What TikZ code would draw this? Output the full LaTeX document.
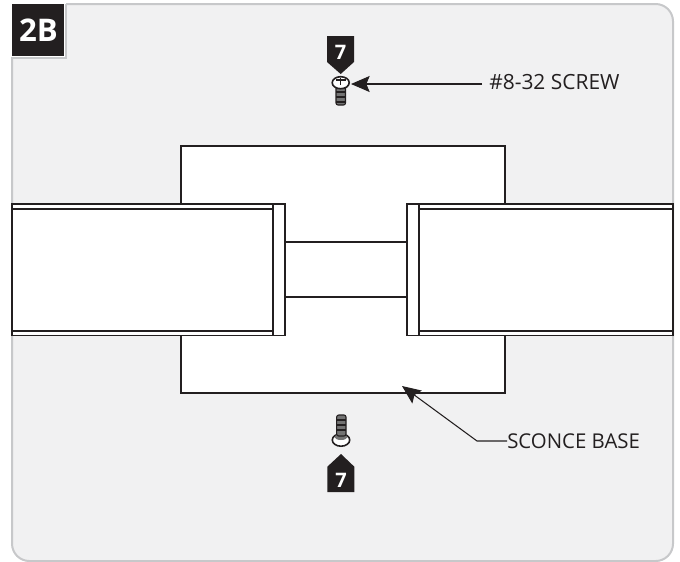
\documentclass[tikz,border=0pt]{standalone}
\usepackage{fontspec}
\setmainfont{Open Sans}
\usepackage{tikz}
\usetikzlibrary{arrows.meta, positioning, calc}
\definecolor{panelfill}{RGB}{241,241,242}
\definecolor{panelline}{RGB}{199,200,202}
\definecolor{inkblack}{RGB}{35,31,32}

\begin{document}
\begin{tikzpicture}[
    x=0.75pt, y=-0.75pt,
    part/.style={draw=inkblack, line width=1.2pt, fill=white},
    edge/.style={draw=inkblack, line width=1pt},
    arrow/.style={-{Stealth[length=14pt, width=12pt, inset=2.5pt]}, draw=inkblack, line width=0.8pt},
    callout/.style={font=\fontsize{15.3}{18}\selectfont, text=inkblack, inner sep=0pt},
    badge/.style={font=\bfseries\fontsize{15}{17}\selectfont, text=white, inner sep=0pt},
    threads/.style={draw=inkblack, line width=0.8pt, fill=black!55, rounded corners=1.5pt}
]
    \useasboundingbox (0,0) rectangle (680,561);
    % Panel and step tag
    \draw[draw=panelline, line width=1.5pt, fill=panelfill, rounded corners=13pt] (12,4) -- (673,4) -- (673,561) -- (12,561) -- cycle;
    \fill[white] (0,0) rectangle (66,58);
    \draw[draw=panelline, line width=1.5pt] (66,4) -- (66,58) -- (12,58) -- (12,80);
    \fill[inkblack] (12,4) rectangle (64,56);
    \node[badge, font=\bfseries\fontsize{23.4}{26}\selectfont] (tag) at (38.5,30) {2B};

    % Sconce base
    \draw[part] (181,146) rectangle (505,393);
    \draw[part] (285,242) rectangle (407,297);

    % Left arm
    \draw[part] (12,204) rectangle (273,335.5);
    \draw[edge] (12,209) -- (273,209);
    \draw[edge] (12,331) -- (273,331);
    \draw[part] (273,204) rectangle (285,335.5);

    % Right arm
    \draw[part] (419,204) rectangle (673,335.5);
    \draw[edge] (419,209) -- (673,209);
    \draw[edge] (419,331) -- (673,331);
    \draw[part] (407,204) rectangle (419,335.5);

    % Upper screw
    \draw[threads] (336,86) rectangle (345.5,105);
    \foreach \ty in {92,97,102}
        \draw[inkblack, line width=1pt] (336,\ty) -- (345.5,\ty);
    \draw[part, line width=1.2pt] (340.7,82.7) ellipse (8.5 and 6);
    \draw[inkblack, line width=0.8pt] (340.7,78) -- (340.7,85) (335.5,80) -- (346,80);
    \fill[inkblack] (327,36) -- (354,36) -- (354,62) -- (340.7,74) -- (327,62) -- cycle;
    \node[badge] (topseven) at (340.7,52) {7};

    % Lower screw
    \draw[inkblack, line width=1.2pt, fill=white] (341,440) ellipse (8.7 and 6.2);
    \fill[black!55] (341,437) ellipse (6.5 and 3);
    \draw[threads] (336.7,415) rectangle (346,436);
    \foreach \ty in {420,425,430}
        \draw[inkblack, line width=1pt] (336.7,\ty) -- (346,\ty);
    \fill[inkblack] (327.3,492) -- (354.3,492) -- (354.3,466.7) -- (341,454) -- (327.3,466.7) -- cycle;
    \node[badge] (botseven) at (341,480) {7};

    % Labels
    \node[callout, font=\fontsize{15.7}{18}\selectfont, anchor=west] (screwlabel) at (489,82) {\#8-32 SCREW};
    \node[callout, anchor=west] (baselabel) at (507,441) {SCONCE BASE};
    \coordinate (screwtip) at (351,84);
    \coordinate (screwtail) at (482,84);
    \coordinate (basetip) at (402,386);
    \draw[arrow] (screwtail) -- (screwtip);
    \draw[arrow] (baselabel.west) -- (477,441) -- (basetip);
\end{tikzpicture}
\end{document}
